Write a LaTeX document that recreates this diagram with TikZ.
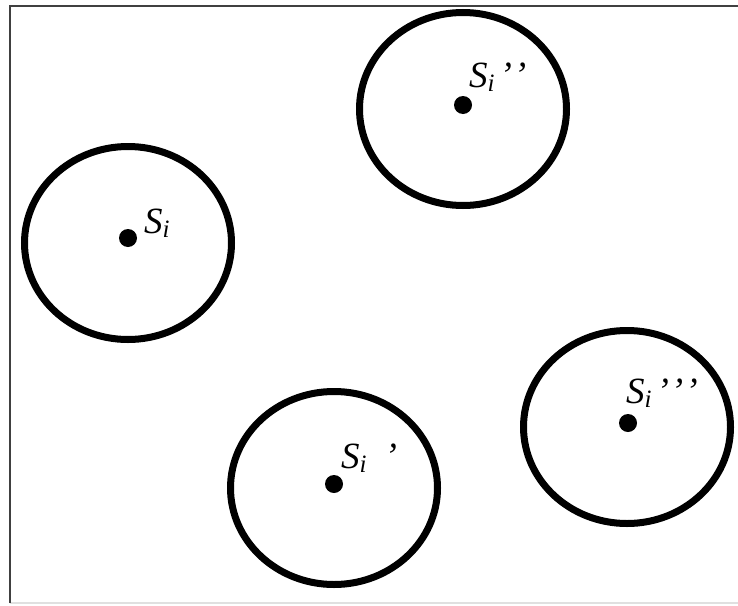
\documentclass[tikz,border=0pt]{standalone}
\usepackage{fontspec}
\setmainfont{Liberation Serif}
\newcommand{\subi}{\raisebox{-4pt}{\fontsize{25}{25}\selectfont\textit{i}}}
\begin{document}
\begin{tikzpicture}[x=1pt,y=-1pt]
\useasboundingbox (0,0) rectangle (738,605);
\tikzset{
  ring/.style={draw=black,line width=7pt},
  site/.style={circle,fill=black,inner sep=0pt,minimum size=18pt},
  lbl/.style={anchor=base west,inner sep=0pt,font=\fontsize{37}{42}\selectfont\itshape},
  frameline/.style={line width=2.5pt,draw=black!75},
  baseline/.style={line width=1.5pt,draw=black!12}
}
% frame
\coordinate (bl) at (10,603);
\coordinate (tl) at (10,6);
\coordinate (tr) at (738,6);
\coordinate (br) at (738,603);
\draw[baseline] (bl) -- (br);
\draw[frameline] (bl) -- (tl) -- (tr);
% rings
\draw[ring] (128,243) ellipse [x radius=103.5pt, y radius=96.5pt];
\draw[ring] (463,109) ellipse [x radius=103.5pt, y radius=96.5pt];
\draw[ring] (334,488) ellipse [x radius=103.5pt, y radius=96.5pt];
\draw[ring] (627,427) ellipse [x radius=103.5pt, y radius=96.5pt];
% sites
\node[site] (s1) at (128,238) {};
\node[site] (s2) at (463,105) {};
\node[site] (s3) at (334,484) {};
\node[site] (s4) at (628,423) {};
% labels
\node[lbl] (l1) at (144,233) {S\subi};
\node[lbl] (l2) at (469,87) {S\subi\hspace{5pt}’\hspace{2pt}’};
\node[lbl] (l3) at (341,468) {S\subi\hspace{18pt}’};
\node[lbl] (l4) at (626,403) {S\subi\hspace{5pt}’\hspace{2pt}’\hspace{2pt}’};
\end{tikzpicture}
\end{document}
